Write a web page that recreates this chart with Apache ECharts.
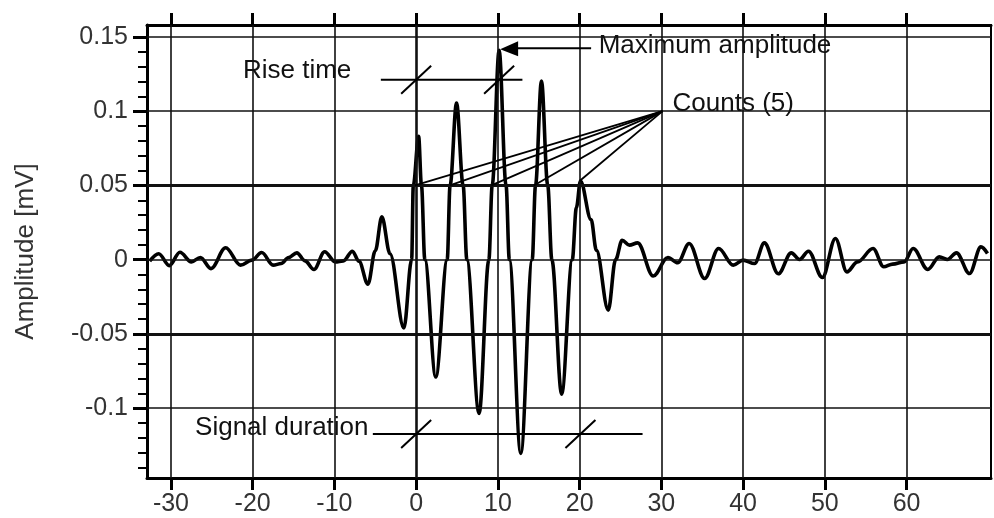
<!DOCTYPE html>
<html><head><meta charset="utf-8">
<script src="https://cdn.jsdelivr.net/npm/echarts@6/dist/echarts.min.js"></script>
<style>html,body{margin:0;padding:0;background:#fff}#c{width:994px;height:518px}</style>
</head><body><div id="c"></div>
<script>
// ---- data ----
const timeValues = [-32.6,-31.5,-30.2,-28.9,-27.5,-26.4,-25.1,-23.3,-21.5,-20.1,
  -18.9,-17.5,-16.5,-15.6,-14.6,-13.6,-12.5,-11.2,-9.9,-8.9,
  -7.8,-7.0,-5.9,-5.0,-4.2,-3.2,-1.5,-0.55,-0.35,0.3,
  0.65,1.06,2.4,3.8,4.15,4.94,5.75,6.2,7.7,8.9,
  9.3,10.15,11.0,11.4,12.8,14.2,14.6,15.33,16.1,16.6,
  17.8,19.1,19.6,20.1,21.4,22.05,23.5,24.4,25.2,26.1,
  27.1,29.0,30.8,32.0,33.4,35.3,37.0,38.8,40.0,41.4,
  42.6,44.3,45.9,46.9,48.0,49.7,51.3,52.7,54.0,55.9,
  57.2,58.3,59.7,60.8,62.6,64.0,65.0,66.1,67.7,69.1,69.9];
const amplitudeValues = [-0.001,0.004,-0.004,0.005,-0.0015,0.0015,-0.006,0.008,-0.0037,-0.0003,
  0.0048,-0.0037,-0.0026,0.0015,0.0046,-0.0008,-0.0066,0.0053,-0.0015,-0.0008,
  0.0057,-0.001,-0.0165,0.006,0.0288,0.004,-0.046,0.0,0.05,0.083,
  0.05,0.0,-0.079,0.0,0.05,0.1055,0.05,0.0,-0.1035,0.0,
  0.05,0.141,0.05,0.0,-0.1304,0.0,0.05,0.1203,0.05,0.0,
  -0.0905,0.0,0.035,0.053,0.027,0.0064,-0.034,0.0,0.0131,0.0098,
  0.0113,-0.011,0.0015,-0.0021,0.0109,-0.0127,0.0075,-0.0037,-0.0003,-0.0026,
  0.0113,-0.0095,0.0046,0.0001,0.0057,-0.012,0.0143,-0.0082,-0.0015,0.0075,
  -0.0048,-0.003,-0.0015,0.0075,-0.0066,0.0019,0.0001,0.0046,-0.0093,0.0086,0.0042];
const xTickValues = [-30,-20,-10,0,10,20,30,40,50,60];
const xTickLabels = ['-30','-20','-10','0','10','20','30','40','50','60'];
const yTickValues = [-0.1,-0.05,0,0.05,0.1,0.15];
const yTickLabels = ['-0.1','-0.05','0','0.05','0.1','0.15'];
const yMinorTickValues = [-0.14,-0.13,-0.12,-0.11,-0.1,-0.09,-0.08,-0.07,-0.06,-0.05,-0.04,-0.03,-0.02,-0.01,0,
  0.01,0.02,0.03,0.04,0.05,0.06,0.07,0.08,0.09,0.1,0.11,0.12,0.13,0.14,0.15];
const thresholdValues = [0.05, -0.05];
const countCrossings = [[-0.15,0.05],[4.12,0.05],[9.2,0.05],[14.4,0.05],[20.0,0.053]];
const countsOrigin = [30.15, 0.1];
const riseTimeLevel = 0.1212, riseTimeSpan = [-4.32, 13.0];
const durationLevel = -0.1174, durationSpan = [-5.3, 27.7], durationEnd = 20.1;
const annotationTexts = [
  {text:'Rise time', at:[-21.19, 0.1272]},
  {text:'Maximum amplitude', at:[22.33, 0.1443]},
  {text:'Counts (5)', at:[31.37, 0.1046]},
  {text:'Signal duration', at:[-27.05, -0.1134]}
];
const whiteBoxes = [
  [[-24.6,0.139],[-4.44,0.1026]],
  [[21.6,0.1555],[52.0,0.1248]],
  [[31.37,0.1161],[68.54,0.0824]],
  [[-28.0,-0.1026],[-5.05,-0.1322]]
];
// ---- chart ----
const FONT = '"Liberation Sans", Arial, sans-serif';
const xMin = -32.93, xMax = 70.33, yMin = -0.147, yMax = 0.158;
const chart = echarts.init(document.getElementById('c'));
const lineData = timeValues.map((t,i)=>[t, amplitudeValues[i]]);
const gridLines = [];
xTickValues.forEach(v=>{ if (v!==0) gridLines.push({xAxis:v, lineStyle:{width:1.6}}); });
gridLines.push({xAxis:0, lineStyle:{width:2.6}});
yTickValues.forEach(v=>{
  if (thresholdValues.indexOf(v) < 0) gridLines.push({yAxis:v, lineStyle:{width:1.6}});
});
thresholdValues.forEach(v=>gridLines.push({yAxis:v, lineStyle:{width:3}}));
function fmt(list, labels){ return v=>{ const i=list.findIndex(u=>Math.abs(u-v)<1e-9); return i<0?'':labels[i]; }; }
chart.setOption({
  animation:false,
  grid:{left:147,right:3,top:25,bottom:40,show:true,borderColor:'#000',borderWidth:2,backgroundColor:'#fff'},
  xAxis:[
    {type:'value',min:xMin,max:xMax,position:'bottom',
     axisLine:{show:true,onZero:false,lineStyle:{color:'#000',width:3}},
     axisTick:{show:true,length:12,customValues:xTickValues,lineStyle:{color:'#000',width:3}},
     axisLabel:{customValues:xTickValues,margin:14,fontSize:25,color:'#333',fontFamily:FONT,formatter:fmt(xTickValues,xTickLabels)},
     splitLine:{show:false}},
    {type:'value',min:xMin,max:xMax,position:'top',
     axisLine:{show:true,onZero:false,lineStyle:{color:'#000',width:3}},
     axisTick:{show:true,length:12,customValues:xTickValues,lineStyle:{color:'#000',width:3}},
     axisLabel:{show:false},splitLine:{show:false}}
  ],
  yAxis:[
    {type:'value',min:yMin,max:yMax,position:'left',
     name:'Amplitude [mV]',nameLocation:'middle',nameGap:108,nameRotate:90,
     nameTextStyle:{fontSize:26,color:'#333',fontFamily:FONT},
     axisLine:{show:true,onZero:false,lineStyle:{color:'#000',width:3}},
     axisTick:{show:true,length:14,customValues:yTickValues,lineStyle:{color:'#000',width:3}},
     axisLabel:{customValues:yTickValues,margin:19,fontSize:25,color:'#333',fontFamily:FONT,formatter:fmt(yTickValues,yTickLabels)},
     splitLine:{show:false}},
    {type:'value',min:yMin,max:yMax,position:'left',
     axisLine:{show:false,onZero:false},
     axisTick:{show:true,length:9,customValues:yMinorTickValues,lineStyle:{color:'#000',width:2}},
     axisLabel:{show:false},splitLine:{show:false}}
  ],
  series:[
    {type:'line',data:[],z:1,silent:true,
     markLine:{silent:true,symbol:'none',animation:false,label:{show:false},
       lineStyle:{color:'#111',type:'solid'},data:gridLines}},
    {type:'line',data:lineData,z:4,showSymbol:false,smooth:0.35,smoothMonotone:'x',
     lineStyle:{color:'#000',width:3.6},silent:true}
  ]
});
const P = (p)=>chart.convertToPixel({gridIndex:0}, p);
const g = [];
whiteBoxes.forEach(b=>{
  const a=P(b[0]), c=P(b[1]);
  g.push({type:'rect',z:3,silent:true,shape:{x:a[0],y:a[1],width:c[0]-a[0],height:c[1]-a[1]},style:{fill:'#fff'}});
});
function seg(a,b,w){ g.push({type:'line',z:6,silent:true,shape:{x1:a[0],y1:a[1],x2:b[0],y2:b[1]},style:{stroke:'#000',lineWidth:w||2}}); }
function slash(c){ seg([c[0]-15,c[1]+14],[c[0]+15,c[1]-14],2); }
// rise time
let peakI = 0; amplitudeValues.forEach((v,i)=>{ if (v>amplitudeValues[peakI]) peakI=i; });
const peakX = timeValues[peakI], peakY = amplitudeValues[peakI];
seg(P([riseTimeSpan[0],riseTimeLevel]),P([riseTimeSpan[1],riseTimeLevel]),2);
slash(P([0,riseTimeLevel])); slash(P([peakX,riseTimeLevel]));
// signal duration
seg(P([durationSpan[0],durationLevel]),P([durationSpan[1],durationLevel]),2);
slash(P([0,durationLevel])); slash(P([durationEnd,durationLevel]));
// max amplitude arrow
const tip = P([peakX,peakY]);
seg([tip[0]+18,tip[1]-2],[tip[0]+92,tip[1]-2],2);
g.push({type:'polygon',z:6,silent:true,shape:{points:[[tip[0]+1,tip[1]-1],[tip[0]+19,tip[1]-9],[tip[0]+19,tip[1]+6]]},style:{fill:'#000'}});
// counts
const co = P(countsOrigin);
countCrossings.forEach(p=>seg(co,P(p),1.8));
annotationTexts.forEach(t=>{
  const p=P(t.at);
  g.push({type:'text',z:7,silent:true,x:p[0],y:p[1],style:{text:t.text,fontSize:26,fontFamily:FONT,fill:'#111',verticalAlign:'middle',align:'left'}});
});
chart.setOption({graphic:g});
</script></body></html>
